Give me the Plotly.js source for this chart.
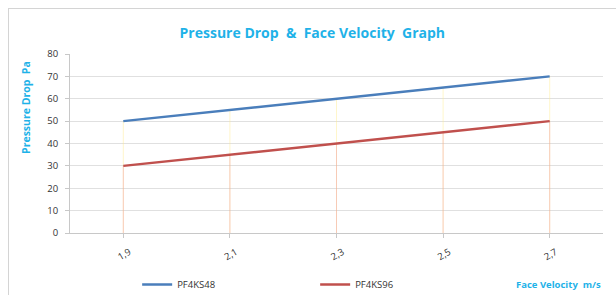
<!DOCTYPE html>
<html>
<head>
<meta charset="utf-8">
<script src="https://cdn.plot.ly/plotly-3.0.1.min.js"></script>
<style>
html,body{margin:0;padding:0;background:#fff;width:616px;height:295px;overflow:hidden;}
#frame{position:absolute;left:8px;top:8px;width:700px;height:400px;border:1px solid #d4d4d4;box-sizing:border-box;}
#chart{position:absolute;left:0;top:0;width:616px;height:295px;}
</style>
</head>
<body>
<div id="frame"></div>
<div id="chart"></div>
<script>
const faceVelocity = [1.9, 2.1, 2.3, 2.5, 2.7];
const tickLabels = ["1,9", "2,1", "2,3", "2,5", "2,7"];
const pf4ks48 = [50, 55, 60, 65, 70];
const pf4ks96 = [30, 35, 40, 45, 50];
const seriesNames = ["PF4KS48", "PF4KS96"];

const traces = [
  {
    x: faceVelocity, y: pf4ks48, name: seriesNames[0], type: 'scatter', mode: 'lines',
    line: {color: '#4a7ebb', width: 2.5},
    error_y: {type: 'data', symmetric: false, array: pf4ks48.map(() => 0), arrayminus: pf4ks48,
              color: 'rgba(255,235,140,0.45)', thickness: 1, width: 0}
  },
  {
    x: faceVelocity, y: pf4ks96, name: seriesNames[1], type: 'scatter', mode: 'lines',
    line: {color: '#c0504d', width: 2.5},
    error_y: {type: 'data', symmetric: false, array: pf4ks96.map(() => 0), arrayminus: pf4ks96,
              color: 'rgba(235,140,150,0.4)', thickness: 1, width: 0}
  }
];

const layout = {
  width: 616, height: 295,
  margin: {l: 70, r: 13, t: 54, b: 62, autoexpand: false},
  paper_bgcolor: 'rgba(0,0,0,0)',
  plot_bgcolor: 'rgba(0,0,0,0)',
  font: {family: 'Open Sans, Liberation Sans, sans-serif', size: 9, color: '#404040'},
  title: {
    text: 'Pressure Drop  &  Face Velocity  Graph',
    font: {family: 'Open Sans, sans-serif', size: 14, color: '#1fb2e8', weight: 'bold'},
    x: 0.507, xanchor: 'center', y: 0.888, yanchor: 'middle'
  },
  xaxis: {
    range: [1.8, 2.8],
    tickvals: faceVelocity, ticktext: tickLabels,
    tickangle: -30,
    ticklabelshift: 6, ticklabelstandoff: 5,
    showgrid: false, zeroline: false,
    showline: true, linecolor: '#c8c8c8', linewidth: 1,
    ticks: 'outside', ticklen: 4, tickcolor: '#c8c8c8',
    tickfont: {size: 9.5, color: '#333333'}
  },
  yaxis: {
    range: [0, 80], dtick: 10,
    showgrid: true, gridcolor: '#e0e0e0', gridwidth: 1,
    zeroline: false,
    showline: true, linecolor: '#c8c8c8', linewidth: 1,
    ticks: 'outside', ticklen: 4, tickcolor: '#c8c8c8',
    ticklabelstandoff: 5,
    tickfont: {size: 9.5, color: '#333333'}
  },
  showlegend: true,
  legend: {
    orientation: 'h', x: 0.126, xanchor: 'left', yref: 'container', y: 0.085, yanchor: 'top',
    entrywidth: 133, entrywidthmode: 'pixels',
    font: {size: 9.5, color: '#333333'}, bgcolor: 'rgba(0,0,0,0)'
  },
  annotations: [
    {text: 'Pressure Drop  Pa', xref: 'paper', yref: 'paper', x: -0.084, y: 0.7,
     textangle: -90, showarrow: false, xanchor: 'center', yanchor: 'middle',
     font: {size: 10.5, color: '#1fb2e8', weight: 'bold'}},
    {text: 'Face Velocity  m/s', xref: 'paper', yref: 'paper', x: 1.0, y: -0.285,
     showarrow: false, xanchor: 'right', yanchor: 'middle',
     font: {size: 9.5, color: '#1fb2e8', weight: 'bold'}}
  ]
};

Plotly.newPlot('chart', traces, layout, {displayModeBar: false, staticPlot: true});
</script>
</body>
</html>
